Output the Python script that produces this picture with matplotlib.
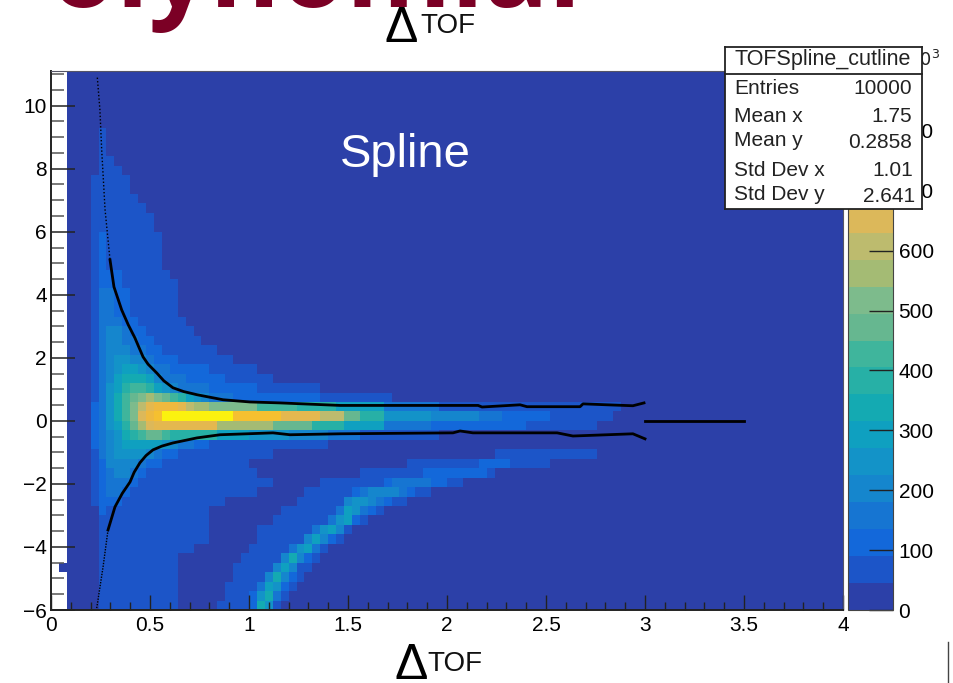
import numpy as np
import matplotlib
matplotlib.use("Agg")
import matplotlib.pyplot as plt
from matplotlib.colors import ListedColormap, BoundaryNorm
from matplotlib.patches import Rectangle
from matplotlib.ticker import MultipleLocator

W, H = 954, 683
plt.rcParams["font.family"] = ["Liberation Sans", "DejaVu Sans"]

# histogram binning: 100 x bins, 57 y bins
n_x, n_y = 100, 57
x_edges = np.linspace(0, 4, n_x + 1)
y_edges = np.linspace(-6, 11.1, n_y + 1)
step = 45  # counts per colour contour

# colour level per cell, y bin -> [(first x bin, levels as base-20 chars)]; all other cells are level 0
rows = {
    50: [(6, "1")], 49: [(6, "1")], 48: [(6, "1")],
    47: [(6, "11")],
    46: [(6, "111")],
    45: [(5, "11111")], 44: [(5, "11111")],
    43: [(5, "111111")],
    42: [(5, "1111111")],
    41: [(5, "11111111")], 40: [(5, "11111111")],
    39: [(5, "121111111")], 38: [(5, "121111111")], 37: [(5, "121111111")], 36: [(5, "121111111")],
    35: [(5, "1222111111")],
    34: [(5, "12221111111")],
    33: [(5, "13322111111")], 32: [(5, "13322111111")], 31: [(5, "13322111111")],
    30: [(5, "133322111111")],
    29: [(5, "1344322111111")],
    28: [(5, "13443322111111")],
    27: [(5, "1344433221111111")],
    26: [(5, "134554432221111111")],
    25: [(5, "134566543322222111111")],
    24: [(5, "13467776433322222111111")],
    23: [(5, "13568998654333322222211111111")],
    22: [(5, "13579abcba98654333"), (23, "22222222222"), (34, "111111111")],
    21: [(5, "23579bdfgggfdcc"), (20, "bbbbbb"), (26, "99999"), (31, "88888"), (36, "666666"), (42, "3333333"),
         (49, "11111111111111111111111")],
    20: [(5, "23579begh"), (14, "jjjjjjjjj"), (23, "hhhhhh"), (29, "fffff"), (34, "ddd"), (37, "aa"), (39, "888"),
         (42, "555555"), (48, "444444"), (54, "333"), (57, "222222"), (63, "11111111")],
    19: [(5, "23568acef"), (14, "fffffff"), (21, "ccccccc"), (28, "aaaaa"), (33, "8888"), (37, "66666"),
         (42, "333333"), (48, "222222222222"), (60, "111111111")],
    18: [(5, "2345789aa9"), (15, "888888"), (21, "6666"), (25, "55555"), (30, "44444"), (35, "3333"), (39, "1111111111")],
    17: [(5, "234566666543322"), (20, "111111111111111")],
    16: [(5, "13455554322"), (16, "111111111111"), (56, "1111111111111")],
    15: [(5, "124444322"), (14, "11111111111"), (45, "111111111"), (54, "2222"), (58, "11111")],
    14: [(5, "1234432"), (12, "11111111111111"), (39, "11111111"), (47, "22222222"), (55, "1")],
    13: [(5, "123332"), (11, "11111111111111111"), (34, "11111111"), (42, "2333332211")],
    12: [(5, "12332"), (10, "1111111111111111"), (32, "111111"), (38, "2344443211")],
    11: [(5, "1222"), (9, "1111111111111"), (31, "111111"), (37, "45543211")],
    10: [(6, "21111111111111"), (29, "1111111"), (36, "365321")],
    9: [(6, "11111111111111"), (28, "1111111"), (35, "35621")],
    8: [(6, "11111111111111"), (26, "1111111"), (33, "35641")],
    7: [(6, "11111111111111"), (26, "111111"), (32, "46421")],
    6: [(6, "111111111111"), (25, "11111"), (30, "35631")],
    5: [(6, "1111111111"), (24, "11111"), (29, "47421")],
    4: [(6, "1111111111"), (23, "11111"), (28, "46411")],
    3: [(6, "1111111111"), (23, "1111"), (27, "47421")],
    2: [(6, "1111111111"), (22, "1111"), (26, "36521")],
    1: [(6, "1111111111"), (22, "111"), (25, "25731")],
    0: [(6, "1111111111"), (21, "1111"), (25, "2751")],
}

# cut line, upper and lower edge
upper_x = [0.234, 0.247, 0.256, 0.273, 0.298, 0.318, 0.357, 0.390, 0.424, 0.445, 0.465, 0.490, 0.534, 0.570, 0.616,
           0.670, 0.737, 0.869, 1.005, 1.157, 1.460, 2.157, 2.177, 2.369, 2.404, 2.672, 2.687, 2.808, 2.939, 2.995]
upper_y = [10.89, 9.87, 8.60, 6.70, 5.11, 4.25, 3.52, 3.05, 2.63, 2.32, 2.03, 1.80, 1.52, 1.27, 1.05,
           0.93, 0.83, 0.67, 0.60, 0.57, 0.49, 0.49, 0.44, 0.51, 0.45, 0.45, 0.54, 0.51, 0.48, 0.57]
lower_x = [0.231, 0.263, 0.288, 0.323, 0.360, 0.399, 0.420, 0.449, 0.480, 0.515, 0.560, 0.616, 0.737, 0.854, 0.990,
           1.121, 1.207, 1.460, 2.030, 2.066, 2.131, 2.556, 2.636, 2.939, 3.000]
lower_y = [-5.94, -4.63, -3.46, -2.73, -2.30, -1.94, -1.63, -1.33, -1.10, -0.92, -0.80, -0.70, -0.54, -0.44, -0.41,
           -0.38, -0.44, -0.41, -0.38, -0.32, -0.38, -0.38, -0.48, -0.41, -0.57]
flat_x = [3.0, 3.5]
flat_y = [0, 0]

stat_names = ["Entries", "Mean x", "Mean y", "Std Dev x", "Std Dev y"]
stat_values = ["10000", "1.75", "0.2858", "1.01", "2.641"]

palette = ["#2c40a8", "#1c55c8", "#1368da", "#1675d2", "#1586cd", "#1393c8", "#0fa0c0", "#14aab2", "#27b0a6", "#3fb59c",
           "#66b790", "#7dbb8c", "#a4bb74", "#bdbb6e", "#dcb85a", "#e4b84f", "#eeb93f", "#f5c030", "#f8d820", "#fbf20f"]

z = np.zeros((n_y, n_x))
for r, segments in rows.items():
    for start, levels in segments:
        for i, ch in enumerate(levels):
            z[r, start + i] = int(ch, 20)
z = (z + 0.5) * step
z[:, :2] = np.nan  # empty bins stay white
z[4, 1] = 0.5 * step

cmap = ListedColormap(palette)
norm = BoundaryNorm(np.arange(0, 901, step), cmap.N)


def box(left, top, right, bottom):
    """ pixel box -> figure fractions """
    return [left / W, 1 - bottom / H, (right - left) / W, (bottom - top) / H]


def put(px, py, s, **kw):
    """ text at pixel position """
    return fig.text(px / W, 1 - py / H, s, **kw)


fig = plt.figure(figsize=(W / 100, H / 100), dpi=100)
ax = fig.add_axes(box(51, 71, 843, 610))
mesh = ax.pcolormesh(x_edges, y_edges, z, cmap=cmap, norm=norm)

ax.plot(upper_x[:5], upper_y[:5], color="black", lw=1.0, ls=(0, (1, 1.5)))
ax.plot(upper_x[4:], upper_y[4:], color="black", lw=2.0)
ax.plot(lower_x[:3], lower_y[:3], color="black", lw=1.0, ls=(0, (1, 1)))
ax.plot(lower_x[2:], lower_y[2:], color="black", lw=2.0)
ax.plot(flat_x, flat_y, color="black", lw=2.0)

ax.set_xlim(0, 4)
ax.set_ylim(-6, 11.1)
ax.xaxis.set_minor_locator(MultipleLocator(0.1))
ax.yaxis.set_major_locator(MultipleLocator(2))
ax.yaxis.set_minor_locator(MultipleLocator(0.5))
ax.set_xticks(np.arange(0, 4.01, 0.5))
ax.set_xticklabels(["0", "0.5", "1", "1.5", "2", "2.5", "3", "3.5", "4"])
ax.tick_params(axis="x", which="major", direction="in", length=11, width=1, labelsize=15, pad=4, color="#222222")
ax.tick_params(axis="x", which="minor", direction="in", length=6, width=1, color="#222222")
ax.tick_params(axis="y", which="major", direction="in", length=17, width=1.1, labelsize=15, pad=3, color="#222222")
ax.tick_params(axis="y", which="minor", direction="in", length=9, width=1.1, color="#555555")
for side in ["left", "bottom"]:
    ax.spines[side].set_linewidth(1.4)
    ax.spines[side].set_color("#222222")
for side in ["top", "right"]:
    ax.spines[side].set_linewidth(0.8)
    ax.spines[side].set_color("#555566")

ax.text(1.79, 8.42, "Spline", color="white", fontsize=34, ha="center", va="center")

# colour scale
cax = fig.add_axes(box(848, 71, 893, 610))
cb = fig.colorbar(mesh, cax=cax, spacing="proportional", drawedges=False)
cb.set_ticks(np.arange(0, 801, 100))
cb.ax.tick_params(which="major", direction="in", length=17, width=1, labelsize=15, pad=4, color="#222222")
cb.ax.minorticks_off()
cb.outline.set_linewidth(0.8)
cb.outline.set_edgecolor("#444444")
put(917, 60, r"$\times 10^{3}$", fontsize=13, ha="center", va="center", color="#222222")

# stats box
stats = fig.add_axes(box(725, 47, 922, 209), zorder=10)
stats.set_xticks([])
stats.set_yticks([])
for s in stats.spines.values():
    s.set_linewidth(1.3)
    s.set_color("#222222")
fig.add_artist(plt.Line2D([725 / W, 922 / W], [1 - 74 / H, 1 - 74 / H], color="#222222", lw=1.3, zorder=11))
put(823, 60, "TOFSpline_cutline", fontsize=15.5, ha="center", va="center", color="#222222", zorder=11)
name_y = [88, 116, 141, 170, 195]
value_y = [89, 116, 143, 171, 196]
value_x = [912, 912, 912, 913, 915]
for i in range(5):
    put(734, name_y[i], stat_names[i], fontsize=15, ha="left", va="center", color="#222222", zorder=11)
    put(value_x[i], value_y[i], stat_values[i], fontsize=15, ha="right", va="center", color="#222222", zorder=11)

# axis titles, big delta + small TOF
put(401, 29, "\u0394", fontsize=36, ha="center", va="center", color="black")
put(448, 26, "TOF", fontsize=20, ha="center", va="center", color="#111111")
put(411, 666, "\u0394", fontsize=36, ha="center", va="center", color="black")
put(455, 664, "TOF", fontsize=20, ha="center", va="center", color="#111111")

# slide title cut off by the top of the picture, first letter is outside the crop
title = put(-17, 7, "Polynomial", fontsize=77, fontweight="bold", family=["Open Sans", "DejaVu Sans"], color="#7b0025",
            ha="left", va="baseline")
title.set_clip_path(Rectangle((40, 0), W, H, transform=None))
title.set_clip_on(True)
fig.add_artist(plt.Line2D([948 / W, 948 / W], [0, 1 - 642 / H], color="#444444", lw=1))

fig.savefig("out.png", dpi=100)
